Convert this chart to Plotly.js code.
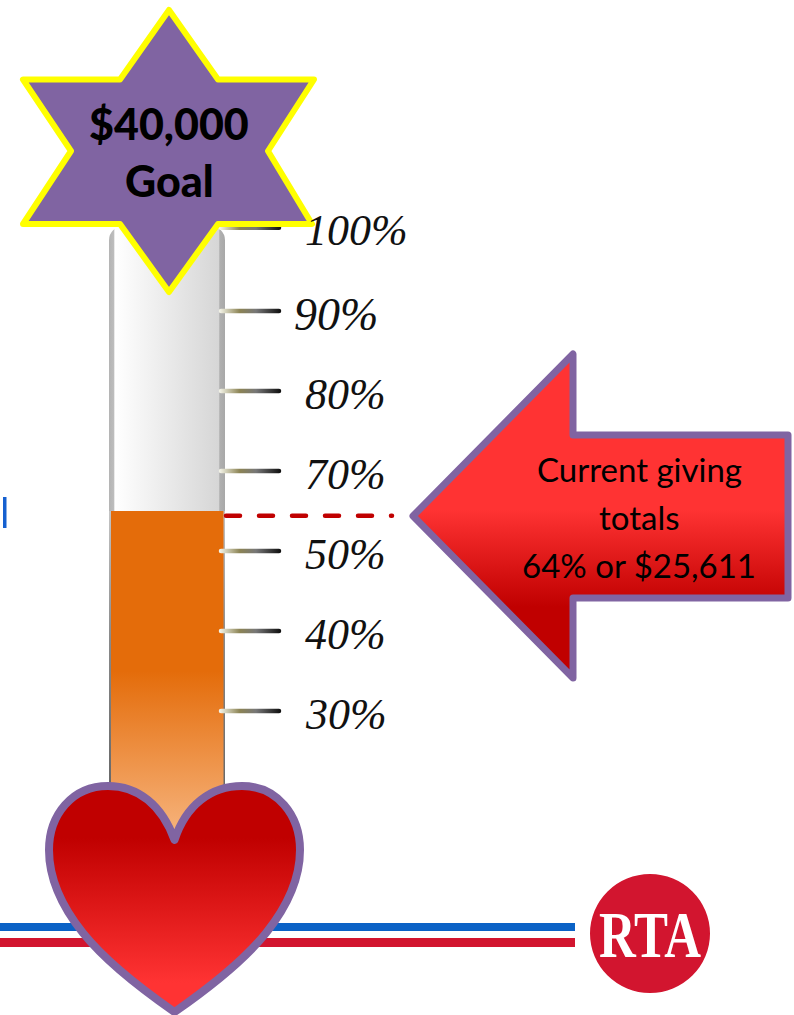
<!DOCTYPE html>
<html><head><meta charset="utf-8">
<script src="https://cdn.plot.ly/plotly-3.0.1.min.js"></script>
<style>html,body{margin:0;padding:0;background:#fff}#gd{width:794px;height:1015px}</style>
</head><body><div id="gd"></div>
<script>
// ---- data ----
const tickLevels = [100.4, 90, 80, 70, 60, 50, 40];           // where each scale mark sits on the tube
const tickLabels = ["100%", "90%", "80%", "70%", "50%", "40%", "30%"]; // as printed (there is no 60%)
const tubeBase = 25;
const tubeTop = 100.6;
const fillTop = 65;
const currentLevel = 64.4;
const goalLines = ["$40,000", "Goal"];
const arrowLines = ["Current giving", "totals", "64% or $25,611"];
const logoText = "RTA";

// ---- page frame ----
const W = 794, H = 1015;
const fx = x => x / W, fy = y => 1 - y / H;
const levelMin = 2, levelMax = 128.875;   // y axis spans the full page height
function path(cmds, close) {
  return cmds.map(c => c[0] + ' ' + c.slice(1).reduce((a, v, i) => {
    a.push(i % 2 ? fy(v) : fx(v)); return a;
  }, []).join(' ')).join(' ') + (close ? ' Z' : '');
}
function poly(pts) {
  return path(pts.map((p, i) => [i ? 'L' : 'M', p[0], p[1]]), true);
}

const cx = 167;
const traces = [
  {type:'bar', x:[cx], y:[tubeTop - tubeBase], base:[tubeBase], width:[116],
   marker:{color:'#dddddd', cornerradius:14, line:{width:0}}, name:'glass'},
  {type:'bar', x:[cx], y:[fillTop - tubeBase], base:[tubeBase], width:[116],
   marker:{color:'#6e6e6e', line:{width:0}}, name:'edge'},
  {type:'bar', x:[167.25], y:[fillTop - tubeBase], base:[tubeBase], width:[112.5],
   marker:{color:'#E46C0A', line:{width:0}}, name:'fill'},
  {type:'scatter', mode:'lines', name:'marks',
   x: tickLevels.flatMap(() => [221, 279, null]),
   y: tickLevels.flatMap(v => [v, v, null]),
   line:{color:'#555', width:4.5}},
  {type:'scatter', mode:'lines', name:'current',
   x:[226, 392], y:[currentLevel, currentLevel],
   line:{color:'#C00000', width:4.5, dash:'14px,19px'}}
];

const purple = '#8064A2';
const shapes = [
  // 0,1 brand stripes
  {type:'rect', xref:'paper', yref:'paper', x0:0, x1:fx(575), y0:fy(923), y1:fy(931), fillcolor:'#0B62C6', line:{width:0}, layer:'above'},
  {type:'rect', xref:'paper', yref:'paper', x0:0, x1:fx(575), y0:fy(938), y1:fy(947), fillcolor:'#D2152F', line:{width:0}, layer:'above'},
  // 2 cropped mark at the left edge
  {type:'rect', xref:'paper', yref:'paper', x0:fx(3), x1:fx(6.5), y0:fy(497), y1:fy(528), fillcolor:'#1560D0', line:{width:0}, layer:'above'},
  // 3 star
  {type:'path', xref:'paper', yref:'paper', layer:'above', fillcolor:purple, line:{color:'#FFFF00', width:6},
   path: poly([[169,10],[218,79.5],[314,79.5],[268,151],[312,224],[218,224],[169,292],[120,224],[23,224],[71,151],[23,79.5],[120,79.5]])},
  // 4 arrow
  {type:'path', xref:'paper', yref:'paper', layer:'above', fillcolor:'#FF3333', line:{color:purple, width:7},
   path: poly([[413,516],[573,354],[573,435],[788,435],[788,598],[573,598],[573,678]])},
  // 5 heart
  {type:'path', xref:'paper', yref:'paper', layer:'above', fillcolor:'#C00000', line:{color:purple, width:8},
   path: path([['M',174.5,840],['C',162,805,138,786,108,786],['C',72,786,49,815,49,850],['C',49,880,63,908,83,933],['C',103,958,140,988,174.5,1012],
               ['C',209,988,246,958,266,933],['C',286,908,300,880,300,850],['C',300,815,277,786,242,786],['C',211,786,186,805,174.5,840]], true)},
  // 6 logo disc
  {type:'circle', xref:'paper', yref:'paper', layer:'above', x0:fx(590), x1:fx(710), y0:fy(874), y1:fy(993), fillcolor:'#D2152F', line:{width:0}}
];

const ann = (x, y, text, size, opts) => Object.assign({
  xref:'paper', yref:'paper', x:fx(x), y:fy(y), text, showarrow:false,
  xanchor:'center', yanchor:'middle', font:{family:'Lato, "Noto Sans", sans-serif', size, color:'#000'}
}, opts || {});

const annotations = [
  ...tickLabels.map((t, i) => ({
    xref:'paper', yref:'y', x:fx(i === 1 ? 292 : 303), y:tickLevels[i], yshift:-3, text:t, showarrow:false,
    xanchor:'left', yanchor:'middle',
    font:{family:'"Liberation Serif", serif', size:i === 1 ? 46 : 44, style:'italic', color:'#111', weight:400}
  })),
  ...goalLines.map((t, i) => ann(169, 123 + i * 58, t, 43, {font:{family:'Lato, sans-serif', size:43, weight:900, color:'#000'}})),
  ...arrowLines.map((t, i) => ann(639, 469 + i * 48, t, 33)),
  ann(650, 934, logoText, 66, {font:{family:'"Liberation Serif", serif', size:66, weight:700, color:'#fff'}})
];

const layout = {
  width:W, height:H, margin:{l:0,r:0,t:0,b:0}, showlegend:false, hovermode:false,
  paper_bgcolor:'#fff', plot_bgcolor:'#fff', barmode:'overlay',
  xaxis:{range:[0,W], visible:false, fixedrange:true},
  yaxis:{range:[levelMin,levelMax], visible:false, fixedrange:true},
  shapes, annotations
};

function grad(defs, id, dir, stops) {
  const NS = 'http://www.w3.org/2000/svg';
  const g = document.createElementNS(NS, 'linearGradient');
  g.setAttribute('id', id);
  g.setAttribute('x1', 0); g.setAttribute('y1', 0);
  g.setAttribute('x2', dir === 'h' ? 1 : 0); g.setAttribute('y2', dir === 'h' ? 0 : 1);
  stops.forEach(s => {
    const st = document.createElementNS(NS, 'stop');
    st.setAttribute('offset', s[0]); st.setAttribute('stop-color', s[1]);
    g.appendChild(st);
  });
  defs.appendChild(g);
  return g;
}

Plotly.newPlot('gd', traces, layout, {staticPlot:true, displayModeBar:false}).then(gd => {
  const svg = gd.querySelector('svg.main-svg');
  const defs = svg.querySelector('defs');
  grad(defs, 'gGlass', 'h', [[0,'#b4b4b4'],[0.042,'#bdbdbd'],[0.05,'#ffffff'],[0.945,'#d6d6d6'],[0.955,'#b0b0b0'],[1,'#a8a8a8']]);
  grad(defs, 'gEdge', 'v', [[0,'#c4c4c4'],[0.4,'#8a8a8a'],[1,'#5e5e5e']]);
  grad(defs, 'gFill', 'v', [[0,'#E46C0A'],[0.5,'#E46C0A'],[1,'#F6B27A']]);
  grad(defs, 'gArrow', 'v', [[0,'#FF3333'],[0.48,'#FF3333'],[0.78,'#C00000'],[1,'#C00000']]);
  grad(defs, 'gHeart', 'v', [[0,'#C00000'],[0.23,'#C00000'],[0.87,'#FF3333'],[1,'#FF3333']]);
  const t = grad(defs, 'gTick', 'h', [[0,'#f2f2e6'],[0.33,'#8c8455'],[0.6,'#777777'],[1,'#111111']]);
  t.setAttribute('gradientUnits','userSpaceOnUse');
  t.setAttribute('x1',220); t.setAttribute('x2',280); t.setAttribute('y1',0); t.setAttribute('y2',0);

  const bars = gd.querySelectorAll('.barlayer .trace');
  bars[0].querySelector('path').style.fill = 'url(#gGlass)';
  bars[1].querySelector('path').style.fill = 'url(#gEdge)';
  bars[2].querySelector('path').style.fill = 'url(#gFill)';
  const shape = i => gd.querySelector('.shapelayer path[data-index="' + i + '"]');
  shape(4).style.fill = 'url(#gArrow)';
  shape(5).style.fill = 'url(#gHeart)';
  [3,4,5].forEach(i => { shape(i).style.strokeLinejoin = 'round'; });
  const lineTraces = gd.querySelectorAll('.scatterlayer .trace');
  lineTraces[0].querySelectorAll('path.js-line').forEach(p => {
    p.style.stroke = 'url(#gTick)';
    p.style.strokeLinecap = 'round';
  });
  lineTraces[1].querySelectorAll('path.js-line').forEach(p => { p.style.strokeLinecap = 'round'; });
  // squeeze the logo lettering to the width of the emblem
  const texts = gd.querySelectorAll('.annotation-text');
  const logo = Array.from(texts).find(n => n.textContent === logoText);
  if (logo) {
    logo.setAttribute('textLength', 102);
    logo.setAttribute('lengthAdjust', 'spacingAndGlyphs');
  }
});
</script>
</body></html>
